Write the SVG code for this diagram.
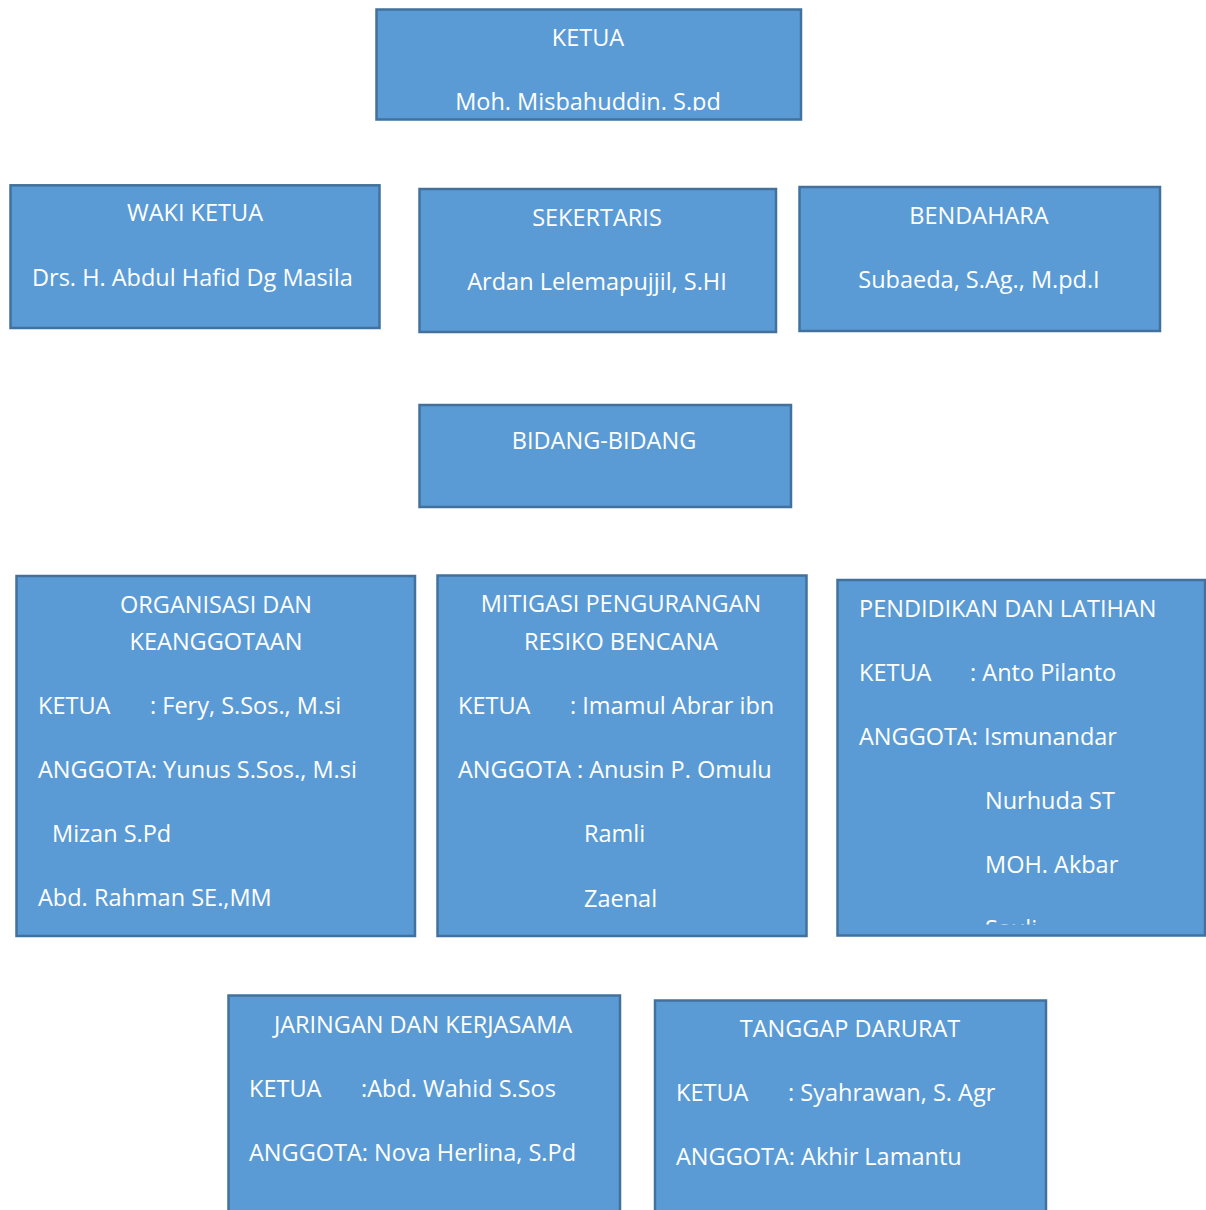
<svg xmlns="http://www.w3.org/2000/svg" width="1206" height="1210" viewBox="0 0 1206 1210">
<style>
.box{fill:#5b9bd5;stroke:#41719c;stroke-width:2.5}
text{font-family:"Open Sans","Noto Sans",sans-serif;font-size:23.5px;fill:#ffffff}
.c{text-anchor:middle}
</style>
<defs>
<clipPath id="clipKetua"><rect x="378" y="11" width="421" height="99.5"/></clipPath>
<clipPath id="clipPend"><rect x="839" y="581" width="365" height="343.5"/></clipPath>
</defs>
<rect width="1206" height="1210" fill="#ffffff"/>
<g id="connectors"></g>
<g id="ketua">
<rect class="box" x="376.5" y="9.5" width="424.5" height="110"/>
<g clip-path="url(#clipKetua)">
<text class="c" x="588" y="46">KETUA</text>
<text class="c" x="588" y="110">Moh. Misbahuddin. S.pd</text>
</g>
</g>
<g id="wakil">
<rect class="box" x="10.5" y="185.3" width="369" height="142.7"/>
<text class="c" x="195" y="221">WAKI KETUA</text>
<text x="32" y="286">Drs. H. Abdul Hafid Dg Masila</text>
</g>
<g id="sekertaris">
<rect class="box" x="419.5" y="189" width="356.5" height="143"/>
<text class="c" x="597" y="226">SEKERTARIS</text>
<text class="c" x="597" y="290">Ardan Lelemapujjil, S.HI</text>
</g>
<g id="bendahara">
<rect class="box" x="799.5" y="187" width="360.5" height="144"/>
<text class="c" x="979" y="224">BENDAHARA</text>
<text class="c" x="979" y="288">Subaeda, S.Ag., M.pd.I</text>
</g>
<g id="bidang">
<rect class="box" x="419.5" y="405" width="371.5" height="102"/>
<text class="c" x="604" y="449">BIDANG-BIDANG</text>
</g>
<g id="organisasi">
<rect class="box" x="16.5" y="576" width="398.5" height="360"/>
<text class="c" x="216" y="613">ORGANISASI DAN</text>
<text class="c" x="216" y="650">KEANGGOTAAN</text>
<text x="38" y="714">KETUA</text>
<text x="150" y="714">: Fery, S.Sos., M.si</text>
<text x="38" y="778">ANGGOTA: Yunus S.Sos., M.si</text>
<text x="52" y="842">Mizan S.Pd</text>
<text x="38" y="906">Abd. Rahman SE.,MM</text>
</g>
<g id="mitigasi">
<rect class="box" x="437.5" y="575.5" width="369" height="360.5"/>
<text class="c" x="621" y="612">MITIGASI PENGURANGAN</text>
<text class="c" x="621" y="650">RESIKO BENCANA</text>
<text x="458" y="714">KETUA</text>
<text x="570" y="714">: Imamul Abrar ibn</text>
<text x="458" y="778">ANGGOTA : Anusin P. Omulu</text>
<text x="584" y="842">Ramli</text>
<text x="584" y="907">Zaenal</text>
</g>
<g id="pendidikan">
<rect class="box" x="837.5" y="580" width="367.5" height="355.5"/>
<g clip-path="url(#clipPend)">
<text x="859" y="617">PENDIDIKAN DAN LATIHAN</text>
<text x="859" y="681">KETUA</text>
<text x="970" y="681">: Anto Pilanto</text>
<text x="859" y="745">ANGGOTA: Ismunandar</text>
<text x="985" y="809">Nurhuda ST</text>
<text x="985" y="873">MOH. Akbar</text>
<text x="985" y="937">Sauli</text>
</g>
</g>
<g id="jaringan">
<rect class="box" x="228.5" y="995.5" width="391.5" height="230"/>
<text class="c" x="423" y="1033">JARINGAN DAN KERJASAMA</text>
<text x="249" y="1097">KETUA</text>
<text x="361" y="1097">:Abd. Wahid S.Sos</text>
<text x="249" y="1161">ANGGOTA: Nova Herlina, S.Pd</text>
</g>
<g id="tanggap">
<rect class="box" x="655" y="1000.5" width="391" height="230"/>
<text class="c" x="850" y="1037">TANGGAP DARURAT</text>
<text x="676" y="1101">KETUA</text>
<text x="788" y="1101">: Syahrawan, S. Agr</text>
<text x="676" y="1165">ANGGOTA: Akhir Lamantu</text>
</g>
</svg>
